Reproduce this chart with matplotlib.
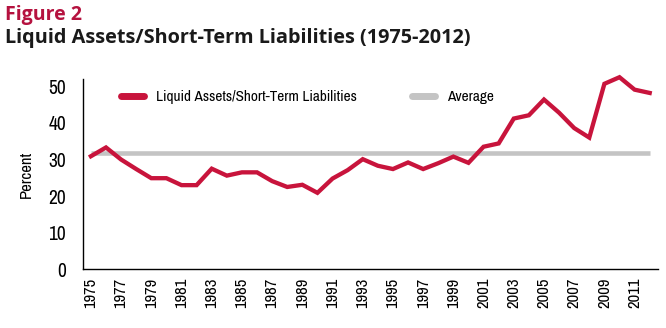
import matplotlib
matplotlib.use('Agg')
import matplotlib.pyplot as plt
from matplotlib.lines import Line2D
from matplotlib import font_manager

# Data
years = list(range(1975, 2013))
ratio = [30.9, 33.3, 30.0, 27.4, 24.9, 24.9, 23.0, 23.0, 27.5, 25.6,
         26.5, 26.5, 24.1, 22.5, 23.1, 20.9, 24.8, 27.1, 30.1, 28.3,
         27.4, 29.2, 27.4, 29.0, 30.8, 29.1, 33.5, 34.4, 41.2, 42.1,
         46.4, 42.8, 38.6, 36.0, 50.7, 52.5, 49.1, 48.2]
average = 31.9
tick_years = list(range(1975, 2013, 2))

red = '#C8143C'
gray = '#C4C4C4'

# condensed face for the chart text
narrow_fp = None
for f in font_manager.fontManager.ttflist:
    if 'Narrow' in f.name or 'Condensed' in f.fname:
        if 'Bold' not in f.fname and 'Oblique' not in f.fname and 'Italic' not in f.fname:
            narrow_fp = f.fname
            if 'Narrow' in f.name:
                break


def nf(size):
    if narrow_fp:
        return font_manager.FontProperties(fname=narrow_fp, size=size)
    return font_manager.FontProperties(family='DejaVu Sans', size=size)


fig = plt.figure(figsize=(6.66, 3.28), dpi=100)
ax = fig.add_axes([0.124, 0.179, 0.864, 0.580])

ax.plot([years[0], years[-1]], [average, average], color=gray, lw=3.3,
        solid_capstyle='butt', zorder=2)
ax.plot(years, ratio, color=red, lw=3.1, solid_joinstyle='miter',
        zorder=3, clip_on=False)

ax.set_xlim(1974.45, 2012.55)
ax.set_ylim(0, 52)
ax.set_yticks(range(0, 51, 10))
ax.set_xticks(tick_years)
ax.set_xticklabels([str(y) for y in tick_years], rotation=90,
                   fontproperties=nf(12))
ax.set_yticklabels([str(v) for v in range(0, 51, 10)], fontproperties=nf(14))
ax.tick_params(length=0, pad=6)
ax.tick_params(axis='y', pad=12)
ax.set_ylabel('Percent', fontproperties=nf(12), labelpad=10)

for s in ['top', 'right']:
    ax.spines[s].set_visible(False)
ax.spines['left'].set_linewidth(1.0)
ax.spines['bottom'].set_linewidth(1.0)

handles = [Line2D([], [], color=red, lw=5, solid_capstyle='round'),
           Line2D([], [], color=gray, lw=5, solid_capstyle='round')]
ax.legend(handles, ['Liquid Assets/Short-Term Liabilities', 'Average'],
          ncol=2, frameon=False, loc='center left', borderpad=0,
          bbox_to_anchor=(0.053, 0.905), columnspacing=3.6,
          handlelength=1.55, handletextpad=0.75, prop=nf(11))

fig.text(0.008, 0.985, 'Figure 2', color='#B5123F', fontsize=14,
         fontweight='bold', family=['Open Sans', 'DejaVu Sans'], va='top')
fig.text(0.008, 0.915, 'Liquid Assets/Short-Term Liabilities (1975-2012)',
         color='#1a1a1a', fontsize=14.3, fontweight='bold',
         family=['Open Sans', 'DejaVu Sans'], va='top')

fig.savefig('out.png', dpi=100)
